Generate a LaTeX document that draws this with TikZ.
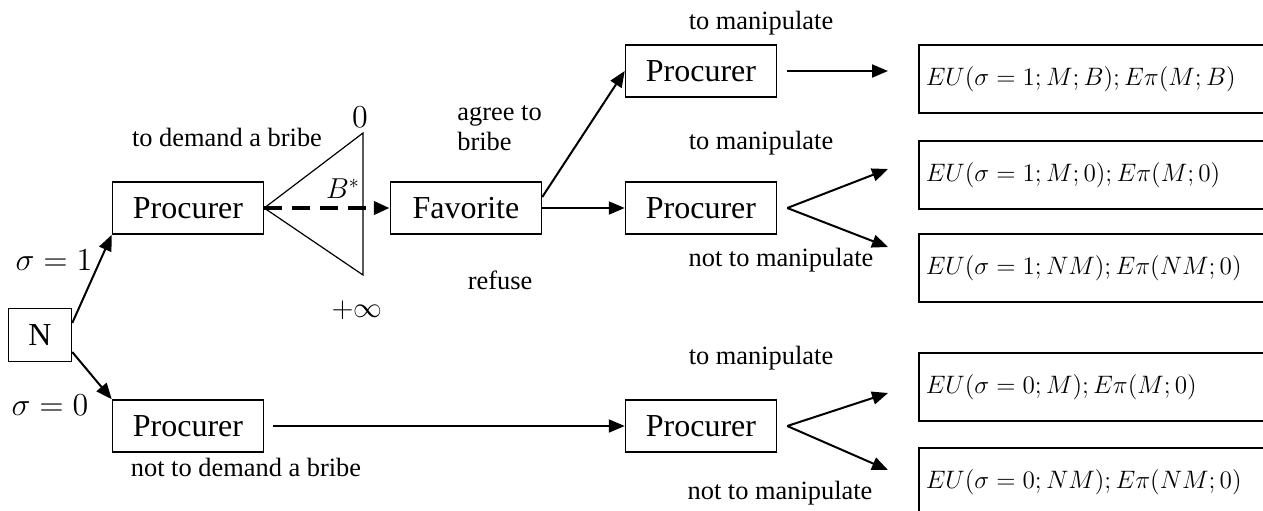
\RequirePackage{fix-cm}
\documentclass[tikz,border=0pt]{standalone}
\usepackage{fontspec}
\setmainfont{Liberation Serif}
\usetikzlibrary{arrows.meta}
\newcommand{\payofftext}[1]{\makebox[178pt][l]{$#1$}}
\tikzset{%
  game/.style = {
    x=0.5pt, y=-0.5pt,
    player/.style = {shape=rectangle, draw, line width=0.75pt,
      minimum width=75.5pt, minimum height=26pt, inner sep=0pt,
      font=\fontsize{16}{18}\selectfont},
    payoff/.style = {shape=rectangle, draw, line width=0.75pt,
      anchor=north west, minimum height=34pt, inner xsep=3.5pt,
      font=\fontsize{12.6}{15}\selectfont},
    move/.style = {font=\fontsize{13.2}{15}\selectfont, inner sep=0pt},
    chance/.style = {font=\fontsize{16}{18}\selectfont, inner sep=0pt},
    edge/.style = {draw, line width=1pt, -{Triangle[length=8pt,width=6.5pt]}}
  }
}
\begin{document}
\begin{tikzpicture}[game]
\useasboundingbox (0,0) rectangle (1263,510);
\node[player, minimum width=31.5pt, minimum height=26.5pt] (N) at (40,335) {N};
\node[player] (proc1) at (188,208) {Procurer};
\node[player] (proc0) at (188,426) {Procurer};
\node[player] (fav) at (466,208) {Favorite};
\node[player] (procB) at (701,71) {Procurer};
\node[player] (procR) at (701,208) {Procurer};
\node[player] (procN) at (701,426) {Procurer};

\node[payoff] (payB) at (918,44) {\payofftext{EU(\sigma=1;M;B);E\pi(M;B)}};
\node[payoff] (payR) at (918,140) {\payofftext{EU(\sigma=1;M;0);E\pi(M;0)}};
\node[payoff] (payRN) at (918,233) {\payofftext{EU(\sigma=1;NM);E\pi(NM;0)}};
\node[payoff] (payN) at (918,352) {\payofftext{EU(\sigma=0;M);E\pi(M;0)}};
\node[payoff] (payNN) at (918,447) {\payofftext{EU(\sigma=0;NM);E\pi(NM;0)}};

\coordinate (tipB) at (888,71);
\coordinate (tipR) at (888,169);
\coordinate (tipRN) at (888,247);
\coordinate (tipN) at (888,393);
\coordinate (tipNN) at (888,470);
\coordinate (bribeHi) at (363,133);
\coordinate (bribeLo) at (363,275);

\draw[line width=0.6pt] (proc1.east) -- (bribeHi) -- (bribeLo) -- cycle;

\draw[edge] ([yshift=6pt]N.east) -- (proc1.south west);
\draw[edge] ([yshift=-8.5pt]N.east) -- (proc0.north west);
\draw[edge, line width=2pt, dash pattern=on 9pt off 5pt] (proc1.east) -- (fav.west);
\draw[edge] ([yshift=5.5pt]fav.east) -- (procB.west);
\draw[edge] (fav.east) -- (procR.west);
\draw[edge, shorten <=4.5pt] (proc0.east) -- (procN.west);
\draw[edge] ([xshift=5pt]procB.east) -- (tipB);
\draw[edge] ([xshift=5pt]procR.east) -- (tipR);
\draw[edge] ([xshift=5pt]procR.east) -- (tipRN);
\draw[edge] ([xshift=5pt]procN.east) -- (tipN);
\draw[edge] ([xshift=5pt]procN.east) -- (tipNN);

\node[chance] (s1) at (54,260) {$\sigma=1$};
\node[chance] (s0) at (50,405) {$\sigma=0$};
\node[chance] (zero) at (360,117) {$0$};
\node[chance, font=\fontsize{14.4}{16}\selectfont] (inf) at (357,310) {$+\infty$};
\node[chance, font=\fontsize{14.4}{16}\selectfont] (bstar) at (343,189) {$B^*$};

\node[move] (demand) at (227,137) {to demand a bribe};
\node[move] (nodemand) at (246,467) {not to demand a bribe};
\node[move, align=left, anchor=west] (agree) at (457,128) {agree to\\bribe};
\node[move] (refuse) at (500,280) {refuse};
\node[move] (manB) at (761,23) {to manipulate};
\node[move] (manR) at (761,143) {to manipulate};
\node[move] (nmanR) at (781,260) {not to manipulate};
\node[move] (manN) at (761,358) {to manipulate};
\node[move] (nmanN) at (780,493) {not to manipulate};
\end{tikzpicture}
\end{document}
